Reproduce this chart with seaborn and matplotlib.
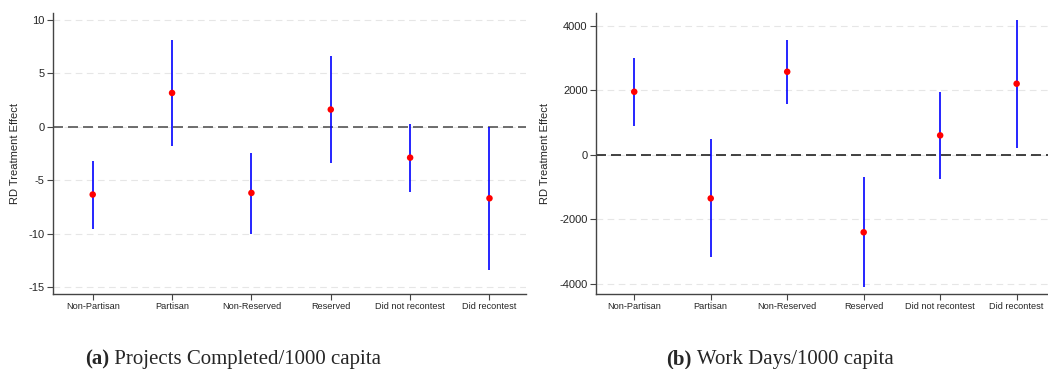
import matplotlib
matplotlib.use("Agg")
import matplotlib.pyplot as plt
import seaborn as sns
import pandas as pd
import numpy as np

categories = ["Non-Partisan", "Partisan", "Non-Reserved", "Reserved",
              "Did not recontest", "Did recontest"]

# (a) Projects Completed/1000 capita
proj_est = [-6.35, 3.15, -6.2, 1.6, -2.9, -6.7]
proj_lo = [-9.6, -1.8, -10.0, -3.4, -6.1, -13.4]
proj_hi = [-3.2, 8.1, -2.5, 6.6, 0.25, 0.0]
proj_ticks = [-15, -10, -5, 0, 5, 10]

# (b) Work Days/1000 capita
days_est = [1950, -1350, 2570, -2400, 600, 2200]
days_lo = [900, -3150, 1570, -4100, -750, 200]
days_hi = [3000, 480, 3550, -680, 1950, 4170]
days_ticks = [-4000, -2000, 0, 2000, 4000]

sns.set_style("white")
plt.rcParams["font.family"] = ["Liberation Sans", "DejaVu Sans"]


def panel(ax, est, lo, hi, ticks, ylim, xlim, zero_color):
    df = pd.DataFrame({"cat": categories, "pos": np.arange(len(categories)),
                       "est": est, "lo": lo, "hi": hi})
    for t in ticks:
        ax.axhline(t, color="#e6e6e6", lw=0.8, ls=(0, (6, 4)), zorder=0)
    ax.axhline(0, color=zero_color, lw=1.2, ls=(0, (6, 3)), zorder=1)
    ax.vlines(df["pos"], df["lo"], df["hi"], color="#0000ff", lw=1.2, zorder=2)
    sns.scatterplot(data=df, x="pos", y="est", color="red", s=22,
                    edgecolor="none", ax=ax, zorder=3)
    ax.set_xlim(*xlim)
    ax.set_ylim(*ylim)
    ax.set_xticks(df["pos"])
    ax.set_xticklabels(categories, fontsize=6.6)
    ax.set_yticks(ticks)
    ax.set_yticklabels([str(t) for t in ticks], fontsize=8)
    ax.set_xlabel("")
    ax.set_ylabel("RD Treatment Effect", fontsize=8)
    ax.tick_params(axis="both", length=4, width=0.8, color="#444444",
                   direction="out", pad=2, bottom=True, left=True)
    for s in ["top", "right"]:
        ax.spines[s].set_visible(False)
    for s in ["left", "bottom"]:
        ax.spines[s].set_color("#444444")
        ax.spines[s].set_linewidth(1.0)


fig = plt.figure(figsize=(10.48, 3.69), dpi=100)
ax1 = fig.add_axes([0.0506, 0.2033, 0.4513, 0.7607])
ax2 = fig.add_axes([0.5687, 0.2033, 0.4313, 0.7607])

panel(ax1, proj_est, proj_lo, proj_hi, proj_ticks, (-15.65, 10.6), (-0.5, 5.46), "#555555")
panel(ax2, days_est, days_lo, days_hi, days_ticks, (-4310, 4380), (-0.5, 5.41), "#222222")
ax1.yaxis.set_label_coords(-0.07, 0.5)
ax2.yaxis.set_label_coords(-0.102, 0.5)

# captions: bold tag followed by regular text
serif = ["Liberation Serif", "DejaVu Serif"]
for x0, tag, rest in [(0.081, "(a)", " Projects Completed/1000 capita"),
                      (0.636, "(b)", " Work Days/1000 capita")]:
    t = fig.text(x0, 0.0, tag, family=serif, fontsize=15, fontweight="bold",
                 ha="left", va="bottom")
    ax1.annotate(rest, xy=(1, 0), xycoords=t, ha="left", va="bottom",
                 family=serif, fontsize=15, annotation_clip=False)

fig.savefig("out.png", dpi=100)
